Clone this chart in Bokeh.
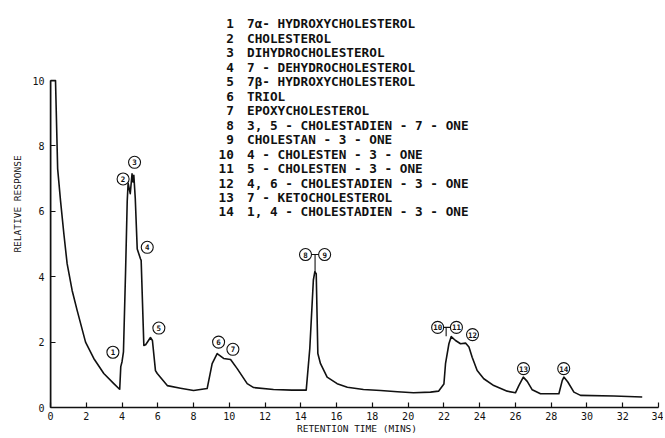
from bokeh.plotting import figure
from bokeh.models import Range1d, FixedTicker, ColumnDataSource
from bokeh.core.properties import value
from bokeh.embed import file_html
from bokeh.resources import INLINE

# ---- chromatogram trace (retention time in min, relative response) ----
time_min = [0.0, 0.0, 0.28, 0.4, 0.56, 0.75, 0.93, 1.21, 1.49, 1.96, 2.42, 2.98, 3.54, 3.82,
            3.87, 3.93, 4.0, 4.08, 4.2, 4.29, 4.34, 4.46, 4.56, 4.61, 4.66, 4.74, 4.85, 5.03,
            5.07, 5.22, 5.32, 5.59, 5.7, 5.87, 5.97, 6.53, 7.27, 8.0, 8.76, 9.04, 9.32, 9.68,
            10.07, 10.44, 11.0, 11.36, 12.47, 13.5, 14.3, 14.5, 14.7, 14.78, 14.86, 14.95,
            15.1, 15.47, 16.03, 16.6, 17.5, 18.46, 19.4, 20.3, 21.25, 21.7, 22.0, 22.09,
            22.28, 22.41, 22.65, 22.93, 23.21, 23.4, 23.58, 23.86, 24.23, 24.79, 25.54,
            26.0, 26.19, 26.44, 26.66, 26.94, 27.4, 28.43, 28.62, 28.71, 28.93, 29.27,
            29.64, 31.5, 33.09]
response = [0.0, 10.0, 10.0, 7.3, 6.33, 5.3, 4.4, 3.58, 2.97, 2.0, 1.5, 1.04, 0.73, 0.58,
            0.56, 1.25, 1.4, 1.7, 4.2, 6.3, 6.86, 6.54, 7.15, 6.9, 7.1, 6.4, 4.85, 4.55,
            4.5, 1.9, 1.92, 2.14, 2.05, 1.13, 1.04, 0.67, 0.59, 0.52, 0.58, 1.34, 1.65, 1.5,
            1.47, 1.19, 0.73, 0.61, 0.55, 0.53, 0.53, 1.8, 3.9, 4.15, 4.09, 1.65,
            1.34, 0.93, 0.73, 0.62, 0.55, 0.52, 0.48, 0.45, 0.47, 0.5, 0.72, 1.34,
            1.95, 2.17, 2.05, 1.95, 1.97, 1.85, 1.54, 1.13, 0.88, 0.67, 0.5,
            0.45, 0.67, 0.93, 0.8, 0.54, 0.42, 0.42, 0.83, 0.93, 0.78, 0.47,
            0.37, 0.35, 0.32]

# ---- peak identification ----
peak_numbers = ["1", "2", "3", "4", "5", "6", "7", "8", "9", "10", "11", "12", "13", "14"]
compounds = ["7\u03b1- HYDROXYCHOLESTEROL", "CHOLESTEROL", "DIHYDROCHOLESTEROL",
             "7 - DEHYDROCHOLESTEROL", "7\u03b2- HYDROXYCHOLESTEROL", "TRIOL",
             "EPOXYCHOLESTEROL", "3, 5 - CHOLESTADIEN - 7 - ONE", "CHOLESTAN - 3 - ONE",
             "4 - CHOLESTEN - 3 - ONE", "5 - CHOLESTEN - 3 - ONE",
             "4, 6 - CHOLESTADIEN - 3 - ONE", "7 - KETOCHOLESTEROL",
             "1, 4 - CHOLESTADIEN - 3 - ONE"]
# circled-marker anchor for each peak label (time, response)
label_time = [3.49, 4.06, 4.7, 5.41, 6.06, 9.4, 10.2, 14.26, 15.33, 21.65, 22.7, 23.6, 26.45, 28.7]
label_resp = [1.69, 6.99, 7.5, 4.9, 2.43, 2.0, 1.78, 4.68, 4.68, 2.45, 2.45, 2.23, 1.19, 1.19]

x_ticks = list(range(0, 35, 2))
y_ticks = list(range(0, 11, 2))

FONT = "DejaVu Sans Mono"
INK = "#111111"

p = figure(width=663, height=436, x_range=Range1d(0, 34.28), y_range=Range1d(0, 12.45),
           output_backend="svg", toolbar_location=None,
           min_border_left=50, min_border_right=0, min_border_top=0, min_border_bottom=24)
p.outline_line_color = None
p.grid.visible = False
p.background_fill_color = "white"

for ax, ticks, bnd in ((p.xaxis, x_ticks, (0, 34)), (p.yaxis, y_ticks, (0, 10))):
    ax.ticker = FixedTicker(ticks=ticks)
    ax.bounds = bnd
    ax.axis_line_color = INK
    ax.axis_line_width = 1.5
    ax.major_tick_line_color = INK
    ax.major_tick_line_width = 1.2
    ax.major_tick_in = 5
    ax.major_tick_out = 0
    ax.minor_tick_in = 0
    ax.minor_tick_out = 0
    ax.major_label_text_font = FONT
    ax.major_label_text_font_size = "10px"
    ax.major_label_text_color = INK
    ax.axis_label_text_font = FONT
    ax.axis_label_text_font_size = "9.5px"
    ax.axis_label_text_font_style = "normal"
    ax.axis_label_text_color = INK

p.xaxis.axis_label = "RETENTION TIME (MINS)"
p.xaxis.major_label_standoff = 4
p.xaxis.axis_label_standoff = 0
p.yaxis.axis_label = "RELATIVE RESPONSE"
p.yaxis.major_label_standoff = 6
p.yaxis.axis_label_standoff = 6

# trace
p.line(time_min, response, line_color=INK, line_width=1.6, line_join="round")

# connectors for paired labels 8-9 and 10-11
p.segment(x0=[label_time[7], (label_time[7] + label_time[8]) / 2,
              label_time[9], (label_time[9] + label_time[10]) / 2 - 0.05],
          y0=[label_resp[7], label_resp[7], label_resp[9], label_resp[9]],
          x1=[label_time[8], (label_time[7] + label_time[8]) / 2,
              label_time[10], (label_time[9] + label_time[10]) / 2 - 0.05],
          y1=[label_resp[8], 4.12, label_resp[10], 2.18],
          line_color=INK, line_width=1.1)

src = ColumnDataSource(dict(x=label_time, y=label_resp, t=peak_numbers))
p.scatter("x", "y", source=src, marker="circle", size=12, fill_color="white",
          line_color=INK, line_width=1.1)
p.text("x", "y", text="t", source=src, text_font=value(FONT), text_font_size="7.5px",
       text_font_style="bold", text_align="center", text_baseline="middle", text_color=INK)

# legend-like list of compounds
row_top, row_step = 11.74, 0.443
rows_y = [row_top - i * row_step for i in range(len(compounds))]
leg = ColumnDataSource(dict(y=rows_y, n=peak_numbers, c=compounds,
                            xn=[10.25] * len(compounds), xc=[10.99] * len(compounds)))
p.text("xn", "y", text="n", source=leg, text_font=value(FONT), text_font_size="12.7px",
       text_font_style="bold", text_align="right", text_baseline="middle", text_color=INK)
p.text("xc", "y", text="c", source=leg, text_font=value(FONT), text_font_size="12.7px",
       text_font_style="bold", text_align="left", text_baseline="middle", text_color=INK)

open("out.html", "w").write(file_html(p, INLINE))
